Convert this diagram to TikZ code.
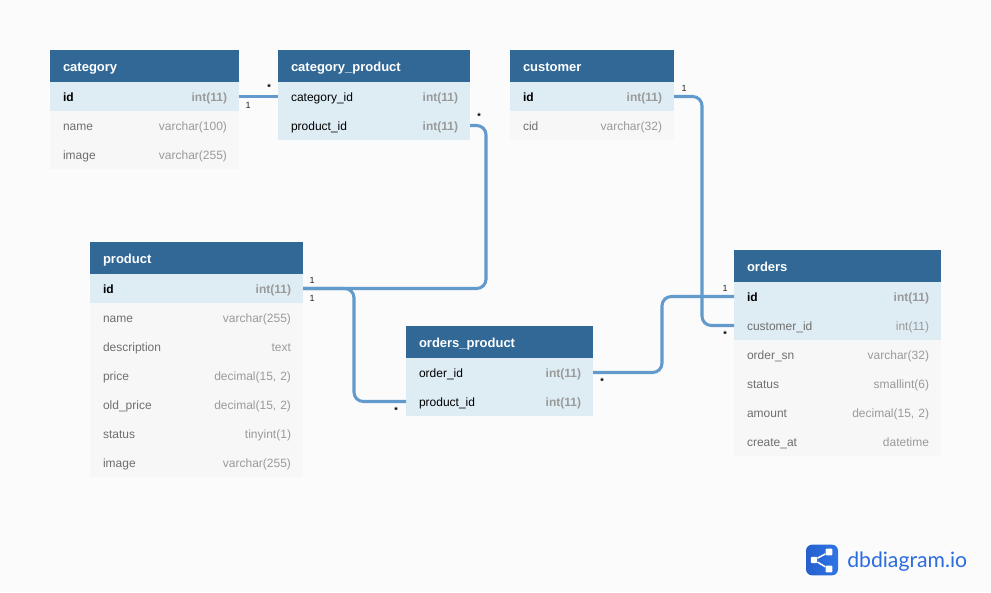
\documentclass[tikz,border=0pt]{standalone}
\usepackage{fontspec}
\setmainfont{Liberation Sans}
\newfontfamily\logofont{Lato}
\usetikzlibrary{positioning}
\definecolor{headblue}{HTML}{316896}
\definecolor{keyrow}{HTML}{DEECF4}
\definecolor{plainrow}{HTML}{F7F7F7}
\definecolor{linkblue}{HTML}{629BCB}
\definecolor{pagebg}{HTML}{FBFBFB}
\definecolor{fieldgray}{HTML}{6F6F6F}
\definecolor{typegray}{HTML}{9A9A9A}
\definecolor{logoblue}{HTML}{2B6CDE}
\definecolor{logodark}{HTML}{2560CC}
\definecolor{logolight}{HTML}{2F75E6}
\tikzset{
  x=0.75pt,y=-0.75pt,
  base/.style={rectangle,outer sep=0pt,inner xsep=9.75pt,inner ysep=0pt,text height=8.8pt,text depth=1.1pt,align=left,font=\fontsize{9}{11}\selectfont},
  tblhead/.style={base,anchor=north west,fill=headblue,text=white,minimum height=24pt,text width=(#1-26)*0.75pt,font=\fontsize{9.75}{11}\bfseries\selectfont},
  keyfld/.style={base,fill=keyrow,text=black,minimum height=21.75pt,text width=(#1-26)*0.75pt},
  plainfld/.style={base,fill=plainrow,text=fieldgray,minimum height=21.75pt,text width=(#1-26)*0.75pt},
  fkfld/.style={keyfld=#1,text=fieldgray},
  linkline/.style={draw=linkblue,line width=2.3pt,rounded corners=7pt},
  card/.style={inner sep=0pt,text=black!85,font=\fontsize{6.75}{8}\selectfont},
  star/.style={card,text=black,font=\fontsize{6.75}{8}\bfseries\selectfont},
}
\newcommand{\ty}[1]{\hfill\textcolor{typegray}{#1}\hspace*{-0.75pt}}
\newcommand{\tyb}[1]{\hfill\textcolor{typegray}{\bfseries #1}\hspace*{-0.75pt}}
\begin{document}
\begin{tikzpicture}
\path[fill=pagebg] (0,0) rectangle (991,592);
\useasboundingbox (0,0) rectangle (991,592);

\node(CAT)[tblhead=189] at (50,50){category};
\node(CATid)[keyfld=189,below=0pt of CAT]{\textbf{id}\tyb{int(11)}};
\node(CATname)[plainfld=189,below=0pt of CATid]{name\ty{varchar(100)}};
\node(CATimage)[plainfld=189,below=0pt of CATname]{image\ty{varchar(255)}};

\node(CP)[tblhead=192] at (278,50){category\_product};
\node(CPcat)[keyfld=192,below=0pt of CP]{category\_id\tyb{int(11)}};
\node(CPprod)[keyfld=192,below=0pt of CPcat]{product\_id\tyb{int(11)}};

\node(CUS)[tblhead=164] at (510,50){customer};
\node(CUSid)[keyfld=164,below=0pt of CUS]{\textbf{id}\tyb{int(11)}};
\node(CUScid)[plainfld=164,below=0pt of CUSid]{cid\ty{varchar(32)}};

\node(PR)[tblhead=213] at (90,242){product};
\node(PRid)[keyfld=213,below=0pt of PR]{\textbf{id}\tyb{int(11)}};
\node(PRname)[plainfld=213,below=0pt of PRid]{name\ty{varchar(255)}};
\node(PRdesc)[plainfld=213,below=0pt of PRname]{description\ty{text}};
\node(PRprice)[plainfld=213,below=0pt of PRdesc]{price\ty{decimal(15, 2)}};
\node(PRold)[plainfld=213,below=0pt of PRprice]{old\_price\ty{decimal(15, 2)}};
\node(PRstatus)[plainfld=213,below=0pt of PRold]{status\ty{tinyint(1)}};
\node(PRimage)[plainfld=213,below=0pt of PRstatus]{image\ty{varchar(255)}};

\node(OP)[tblhead=187] at (406,326){orders\_product};
\node(OPord)[keyfld=187,below=0pt of OP]{order\_id\tyb{int(11)}};
\node(OPprod)[keyfld=187,below=0pt of OPord]{product\_id\tyb{int(11)}};

\node(ORD)[tblhead=207] at (734,250){orders};
\node(ORDid)[keyfld=207,below=0pt of ORD]{\textbf{id}\tyb{int(11)}};
\node(ORDcus)[fkfld=207,below=0pt of ORDid]{customer\_id\ty{int(11)}};
\node(ORDsn)[plainfld=207,below=0pt of ORDcus]{order\_sn\ty{varchar(32)}};
\node(ORDstatus)[plainfld=207,below=0pt of ORDsn]{status\ty{smallint(6)}};
\node(ORDamount)[plainfld=207,below=0pt of ORDstatus]{amount\ty{decimal(15, 2)}};
\node(ORDcreate)[plainfld=207,below=0pt of ORDamount]{create\_at\ty{datetime}};

\draw[linkline] (CATid.east) -- (CPcat.west);
\draw[linkline] (CPprod.east) -- ++(16,0) |- (PRid.east);
\draw[linkline] (PRid.east) -- ++(51,0) |- (OPprod.west);
\draw[linkline] (CUSid.east) -- ++(28,0) |- (ORDcus.west);
\draw[linkline] (OPord.east) -- ++(69,0) |- (ORDid.west);

\node[card] (c1) at (248,105){1};
\node[star] (c2) at (269,87){*};
\node[star] (c3) at (479,116){*};
\node[card] (c4) at (312,280){1};
\node[card] (c5) at (312,298){1};
\node[star] (c6) at (396,410){*};
\node[card] (c7) at (684,88){1};
\node[card] (c8) at (725,288){1};
\node[star] (c9) at (725,334){*};
\node[star] (c10) at (602,381){*};

\node(LOGO)[rectangle,rounded corners=4.5pt,left color=logodark,right color=logolight,minimum width=24pt,minimum height=23pt,inner sep=0pt,outer sep=0pt] at (822,560){};
\node(LGa)[rectangle,rounded corners=.8pt,fill=white,minimum size=4.8pt,inner sep=0pt] at (814,560){};
\node(LGb)[rectangle,rounded corners=.8pt,fill=white,minimum size=5.2pt,inner sep=0pt] at (829,552){};
\node(LGc)[rectangle,rounded corners=.8pt,fill=white,minimum size=5.2pt,inner sep=0pt] at (829,569){};
\draw[white,line width=1.1pt] (LGb) -- (LGa) -- (LGc);
\node(LOGOTXT)[anchor=west,inner sep=0pt,text=logoblue,font=\logofont\fontsize{15.9}{18}\selectfont] at (847,562){dbdiagram.io};
\end{tikzpicture}
\end{document}
